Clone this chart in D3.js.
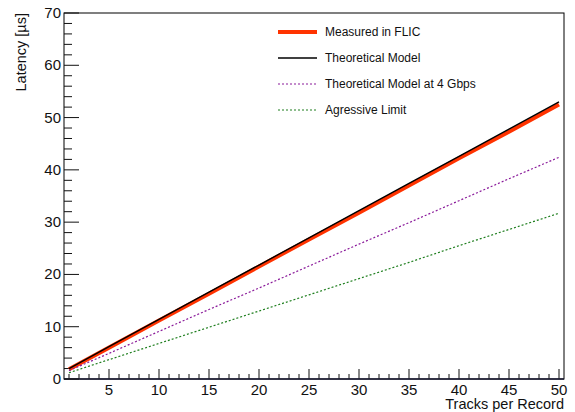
<!DOCTYPE html>
<html>
<head>
<meta charset="utf-8">
<script src="https://cdn.jsdelivr.net/npm/d3@7"></script>
<style>
  body { margin: 0; background: #fff; }
  text { font-family: "Liberation Sans", Arial, sans-serif; fill: #111; }
</style>
</head>
<body>
<svg id="chart" width="575" height="412"></svg>
<script>
// tracks per record (x) and latency values
var tracks = [1, 5, 10, 15, 20, 25, 30, 35, 40, 45, 50];
var measured = [1.85, 6.0, 11.2, 16.3, 21.5, 26.7, 31.8, 37.0, 42.2, 47.3, 52.5];
var theory = [2.0, 6.2, 11.4, 16.6, 21.8, 27.0, 32.2, 37.4, 42.6, 47.8, 53.0];
var theory4g = [1.6, 4.9, 9.1, 13.3, 17.4, 21.6, 25.8, 29.9, 34.1, 38.3, 42.4];
var aggressive = [1.2, 3.7, 6.8, 9.9, 13.0, 16.1, 19.2, 22.3, 25.5, 28.6, 31.7];

var seriesNames = ["Measured in FLIC", "Theoretical Model", "Theoretical Model at 4 Gbps", "Agressive Limit"];
var xTicks = [5, 10, 15, 20, 25, 30, 35, 40, 45, 50];
var yTicks = [0, 10, 20, 30, 40, 50, 60, 70];

var styles = [
  { color: "#ff3300", width: 4, dash: null },
  { color: "#000000", width: 1.4, dash: null },
  { color: "#8a1a9a", width: 1.2, dash: "2,2" },
  { color: "#1f7f1f", width: 1.2, dash: "2,2" }
];

var svg = d3.select("#chart");
// plot frame edges (note: "top" is a reserved window property)
var pLeft = 64, pRight = 564, pTop = 13, pBottom = 379;

var x = d3.scaleLinear().domain([0.5, 50.5]).range([pLeft, pRight]);
var y = d3.scaleLinear().domain([0, 70]).range([pBottom, pTop]);

// frame
svg.append("rect")
  .attr("x", pLeft).attr("y", pTop)
  .attr("width", pRight - pLeft).attr("height", pBottom - pTop)
  .attr("fill", "none").attr("stroke", "#000").attr("stroke-width", 1);

// x ticks: minor every 1, major every 5
var gx = svg.append("g");
gx.selectAll("line").data(d3.range(1, 51))
  .enter().append("line")
  .attr("x1", function(d) { return x(d); })
  .attr("x2", function(d) { return x(d); })
  .attr("y1", pBottom)
  .attr("y2", function(d) { return d % 5 == 0 ? pBottom - 10 : pBottom - 5; })
  .attr("stroke", "#111").attr("stroke-width", 1);
gx.selectAll("text").data(xTicks)
  .enter().append("text")
  .attr("x", function(d) { return x(d); })
  .attr("y", 395)
  .attr("text-anchor", "middle")
  .style("font-size", "15px")
  .text(function(d) { return d; });

// bottom axis line a bit heavier
svg.append("line")
  .attr("x1", pLeft).attr("x2", pRight)
  .attr("y1", pBottom).attr("y2", pBottom)
  .attr("stroke", "#1a1a33").attr("stroke-width", 1.6);

// y ticks: minor every 2, major every 10
var gy = svg.append("g");
gy.selectAll("line").data(d3.range(0, 71, 2))
  .enter().append("line")
  .attr("x1", pLeft)
  .attr("x2", function(d) { return d % 10 == 0 ? pLeft + 15 : pLeft + 8; })
  .attr("y1", function(d) { return y(d); })
  .attr("y2", function(d) { return y(d); })
  .attr("stroke", "#111").attr("stroke-width", 1);
gy.selectAll("text").data(yTicks)
  .enter().append("text")
  .attr("x", pLeft - 3)
  .attr("y", function(d) { return y(d) + 5; })
  .attr("text-anchor", "end")
  .style("font-size", "15px")
  .text(function(d) { return d; });

// axis titles
svg.append("text")
  .attr("x", pRight).attr("y", 409)
  .attr("text-anchor", "end")
  .style("font-size", "14.5px")
  .text("Tracks per Record");
svg.append("text")
  .attr("transform", "translate(26," + pTop + ") rotate(-90)")
  .attr("text-anchor", "end")
  .style("font-size", "14.5px")
  .text("Latency [\u00b5s]");

// lines
var allSeries = [measured, theory, theory4g, aggressive];
var line = d3.line()
  .x(function(d, i) { return x(tracks[i]); })
  .y(function(d) { return y(d); });

allSeries.forEach(function(s, k) {
  svg.append("path")
    .datum(s)
    .attr("d", line)
    .attr("fill", "none")
    .attr("stroke", styles[k].color)
    .attr("stroke-width", styles[k].width)
    .attr("stroke-dasharray", styles[k].dash);
});

// legend
var legend = svg.append("g");
seriesNames.forEach(function(name, k) {
  var ly = 32 + k * 26;
  legend.append("line")
    .attr("x1", 278).attr("x2", 317)
    .attr("y1", ly).attr("y2", ly)
    .attr("stroke", styles[k].color)
    .attr("stroke-width", styles[k].width)
    .attr("stroke-dasharray", styles[k].dash);
  legend.append("text")
    .attr("x", 325).attr("y", ly + 4)
    .style("font-size", "12px")
    .text(name);
});
</script>
</body>
</html>
